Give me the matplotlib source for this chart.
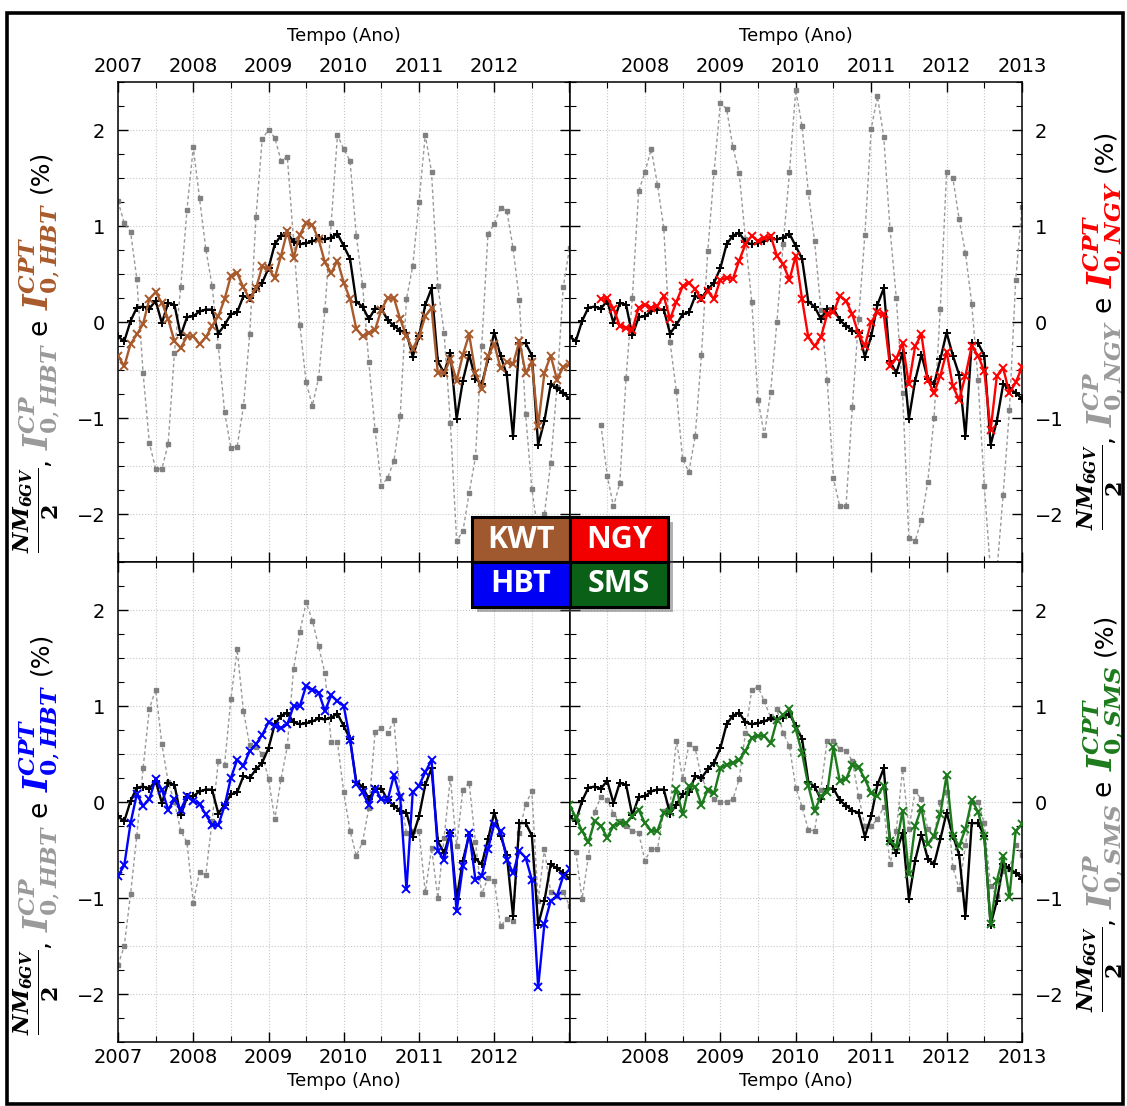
import numpy as np
import matplotlib
matplotlib.use("Agg")
import matplotlib.pyplot as plt
from matplotlib.patches import Rectangle
from matplotlib.ticker import MultipleLocator

nan = np.nan

# months from Jan 2007 to Jan 2013
anos = 2007 + np.arange(73) / 12.0

# NM_6GV / 2 (same curve in all panels)
nm_6gv = [-0.15, -0.20, 0.01, 0.15, 0.16, 0.14, 0.22, -0.01, 0.20, 0.18, -0.14, 0.05,
          0.06, 0.11, 0.13, 0.13, -0.12, -0.03, 0.08, 0.10, 0.27, 0.25, 0.34, 0.41,
          0.56, 0.81, 0.90, 0.93, 0.83, 0.81, 0.82, 0.84, 0.87, 0.86, 0.88, 0.92,
          0.79, 0.66, 0.21, 0.16, 0.03, 0.14, 0.14, 0.02, -0.04, -0.09, -0.11, -0.36,
          -0.15, 0.18, 0.35, -0.41, -0.53, -0.32, -1.01, -0.61, -0.34, -0.59, -0.65, -0.39,
          -0.11, -0.35, -0.55, -1.19, -0.22, -0.22, -0.35, -1.28, -1.03, -0.65, -0.69, -0.74, -0.80]

cp_kwt = [1.26, 1.03, 0.94, 0.45, -0.53, -1.26, -1.53, -1.53, -1.27, -0.32, 0.36, 1.17,
          1.82, 1.29, 0.76, 0.38, -0.25, -0.94, -1.31, -1.30, -0.88, -0.13, 1.09, 1.91,
          2.00, 1.92, 1.68, 1.72, 0.85, -0.03, -0.63, -0.87, -0.58, 0.13, 1.03, 1.95,
          1.80, 1.68, 0.90, 0.39, -0.42, -1.13, -1.71, -1.62, -1.45, -0.98, 0.24, 0.58,
          1.25, 1.95, 1.56, 0.38, -0.11, -1.05, -2.28, -2.18, -1.78, -1.41, -0.25, 0.92,
          1.02, 1.19, 1.16, 0.77, 0.23, -0.96, -1.74, -2.20, -2.00, -1.47, -0.68, 0.36, 0.77]
cpt_kwt = [-0.35, -0.46, -0.23, -0.13, -0.02, 0.24, 0.31, 0.20, 0.03, -0.20, -0.27, -0.15,
           -0.15, -0.23, -0.16, -0.04, 0.06, 0.24, 0.48, 0.51, 0.36, 0.24, 0.35, 0.58,
           0.56, 0.46, 0.69, 0.95, 0.67, 0.91, 1.03, 1.01, 0.86, 0.62, 0.51, 0.64,
           0.41, 0.24, -0.07, -0.15, -0.11, -0.08, 0.13, 0.25, 0.25, 0.03, -0.15, -0.28,
           -0.15, 0.06, 0.15, -0.53, -0.53, -0.39, -0.61, -0.34, -0.13, -0.53, -0.70, -0.35,
           -0.23, -0.48, -0.42, -0.44, -0.20, -0.53, -0.42, -1.08, -0.53, -0.35, -0.60, -0.47, -0.44]

cp_ngy = [nan, nan, nan, nan, nan, -1.07, -1.60, -1.92, -1.68, -0.58, 0.25, 1.36,
          1.56, 1.80, 1.43, 0.98, -0.21, -0.72, -1.43, -1.56, -1.19, -0.34, 0.74, 1.56,
          2.28, 2.22, 1.82, 1.55, 0.86, 0.21, -0.81, -1.18, -0.73, 0.00, 0.81, 1.56,
          2.42, 2.04, 1.35, 0.84, 0.13, -0.60, -1.63, -1.92, -1.92, -0.89, 0.03, 0.91,
          2.01, 2.35, 1.93, 0.97, 0.25, -0.74, -2.25, -2.28, -2.06, -1.67, -1.00, 0.14,
          1.56, 1.50, 1.07, 0.72, 0.19, -0.60, -1.71, -2.60, -2.60, -1.80, -0.92, 0.44, 1.20]
cpt_ngy = [nan, nan, nan, nan, nan, 0.24, 0.25, 0.14, -0.04, -0.06, -0.08, 0.15,
           0.18, 0.15, 0.17, 0.27, 0.03, 0.21, 0.37, 0.41, 0.34, 0.24, 0.32, 0.24,
           0.44, 0.46, 0.45, 0.64, 0.81, 0.90, 0.84, 0.87, 0.90, 0.69, 0.60, 0.44,
           0.69, 0.24, -0.16, -0.25, -0.16, 0.08, 0.10, 0.27, 0.22, 0.08, -0.13, -0.25,
           0.00, 0.10, 0.08, -0.46, -0.38, -0.22, -0.65, -0.25, -0.13, -0.60, -0.74, -0.56,
           -0.31, -0.67, -0.81, -0.56, -0.25, -0.35, -0.51, -1.13, -0.56, -0.48, -0.74, -0.63, -0.47]

cp_hbt = [-1.70, -1.50, -0.96, -0.35, 0.35, 0.97, 1.17, 0.60, 0.21, 0.00, -0.30, -0.42,
          -1.05, -0.73, -0.76, -0.20, 0.43, 0.39, 1.07, 1.59, 0.95, 0.59, 0.57, 0.50,
          0.24, -0.18, 0.24, 0.58, 1.39, 1.77, 2.08, 1.89, 1.62, 1.34, 0.62, 0.62,
          0.10, -0.30, -0.56, -0.42, -0.06, 0.73, 0.77, 0.72, 0.85, 0.06, -0.32, -0.30,
          -0.30, -0.94, -0.48, -1.00, -0.37, 0.25, -0.46, 0.13, 0.20, -0.42, -0.96, -0.79,
          -0.82, -1.29, -1.22, -1.24, -0.32, -0.02, 0.11, -1.03, -0.49, -0.94, -0.98, -0.94, -1.08]
cpt_hbt = [-0.77, -0.66, -0.22, 0.08, -0.04, 0.03, 0.24, 0.13, -0.08, 0.03, -0.08, 0.06,
           0.01, -0.02, -0.13, -0.24, -0.24, -0.04, 0.25, 0.44, 0.38, 0.53, 0.60, 0.70,
           0.83, 0.79, 0.77, 0.81, 1.00, 1.00, 1.21, 1.17, 1.14, 0.95, 1.11, 1.05,
           1.00, 0.65, 0.19, 0.10, -0.03, 0.14, 0.03, 0.02, 0.28, 0.05, -0.91, 0.10,
           0.17, 0.31, 0.44, -0.51, -0.60, -0.32, -1.14, -0.67, -0.32, -0.81, -0.77, -0.49,
           -0.23, -0.30, -0.60, -0.74, -0.51, -0.58, -0.81, -1.93, -1.27, -1.03, -0.98, -0.77, -0.70]

cp_sms = [nan, -0.52, -1.01, -0.57, -0.10, 0.05, 0.02, -0.12, -0.20, -0.25, -0.30, -0.32,
          -0.61, -0.49, -0.49, -0.09, -0.04, 0.64, 0.24, 0.60, 0.56, 0.25, 0.13, 0.03,
          0.00, 0.00, 0.03, 0.24, 0.72, 1.17, 1.20, 1.05, 0.88, 0.97, 0.72, 0.58,
          0.15, -0.05, -0.29, -0.30, 0.13, 0.64, 0.64, 0.55, 0.53, 0.43, 0.06, -0.25,
          -0.25, -0.18, -0.05, -0.65, -0.30, 0.34, -0.28, 0.11, 0.03, -0.28, -0.35, 0.00,
          0.10, -0.68, -0.91, -0.45, 0.00, 0.00, -0.22, -0.88, -0.98, -0.72, -0.70, -0.45, -0.55]
cpt_sms = [-0.03, -0.16, -0.30, -0.42, -0.20, -0.25, -0.37, -0.25, -0.22, -0.22, -0.15, -0.08,
           -0.22, -0.30, -0.30, -0.11, -0.10, 0.14, -0.13, 0.17, 0.16, -0.03, 0.13, 0.09,
           0.35, 0.39, 0.41, 0.44, 0.53, 0.67, 0.69, 0.69, 0.61, 0.85, 0.91, 0.97,
           0.76, 0.51, 0.17, -0.09, 0.06, 0.10, 0.57, 0.22, 0.24, 0.39, 0.36, 0.24,
           0.09, 0.06, 0.17, -0.41, -0.46, -0.09, -0.75, -0.25, -0.06, -0.44, -0.35, -0.13,
           0.28, -0.35, -0.46, -0.28, 0.02, -0.10, -0.35, -1.27, -0.82, -0.56, -0.99, -0.30, -0.23]

estacoes = ["KWT", "NGY", "HBT", "SMS"]
cores = {"KWT": "#A85A2C", "NGY": "#FF0000", "HBT": "#0000FF", "SMS": "#1C7A1C"}
cores_caixa = {"KWT": "#A0582E", "NGY": "#F20000", "HBT": "#0000F5", "SMS": "#0B6018"}
# the KWT panel is labelled with HBT in the original figure
nomes_rotulo = {"KWT": "HBT", "NGY": "NGY", "HBT": "HBT", "SMS": "SMS"}
series_cp = {"KWT": cp_kwt, "NGY": cp_ngy, "HBT": cp_hbt, "SMS": cp_sms}
series_cpt = {"KWT": cpt_kwt, "NGY": cpt_ngy, "HBT": cpt_hbt, "SMS": cpt_sms}
anos_rotulos = [str(a) for a in range(2007, 2014)]

W, H = 1127, 1106
plt.rcParams["font.family"] = "DejaVu Sans"
plt.rcParams["mathtext.fontset"] = "dejavuserif"

fig = plt.figure(figsize=(W / 100, H / 100), dpi=100)


def fx(px):
    return px / W


def fy(py):
    return 1 - py / H


x0, xm, x1 = 118, 569.5, 1022
y0, ym, y1 = 82, 562, 1042
posicoes = {
    "KWT": (x0, y0, xm, ym),
    "NGY": (xm, y0, x1, ym),
    "HBT": (x0, ym, xm, y1),
    "SMS": (xm, ym, x1, y1),
}

for k, est in enumerate(estacoes):
    a, b, c, d = posicoes[est]
    ax = fig.add_axes([fx(a), fy(d), (c - a) / W, (d - b) / H])
    ax.set_xlim(2007, 2013)
    ax.set_ylim(-2.5, 2.5)
    for g in np.arange(2007, 2013.01, 0.5):
        ax.axvline(g, color="#c8c8c8", lw=0.8, ls=":", zorder=0)
    for g in np.arange(-2.0, 2.01, 0.5):
        ax.axhline(g, color="#c8c8c8", lw=0.8, ls=":", zorder=0)

    ax.plot(anos, series_cp[est], color="#999999", lw=1.0, ls=(0, (2.5, 2)),
            marker="s", ms=2.8, mfc="#808080", mec="#808080", zorder=2)
    ax.plot(anos, nm_6gv, color="black", lw=1.7, marker="+", ms=6, mew=1.4, zorder=3)
    ax.plot(anos, series_cpt[est], color=cores[est], lw=1.7, marker="x", ms=6, mew=1.4, zorder=4)

    topo = k < 2
    esquerda = k % 2 == 0
    ax.set_xticks(range(2007, 2014))
    rot = list(anos_rotulos)
    if esquerda:
        rot[-1] = ""
    else:
        rot[0] = ""
    ax.set_xticklabels(rot)
    ax.xaxis.set_minor_locator(MultipleLocator(0.5))
    ax.set_yticks([-2, -1, 0, 1, 2])
    ax.yaxis.set_minor_locator(MultipleLocator(0.25))
    ax.tick_params(axis="both", which="both", direction="in", top=True, bottom=True,
                   left=True, right=True, labelsize=14)
    ax.tick_params(axis="both", which="major", length=7, width=1)
    ax.tick_params(axis="both", which="minor", length=4, width=0.8)
    ax.tick_params(axis="x", labeltop=topo, labelbottom=not topo, pad=4)
    ax.tick_params(axis="y", labelleft=esquerda, labelright=not esquerda, pad=9)
    if topo:
        ax.xaxis.set_label_position("top")
    ax.set_xlabel("Tempo (Ano)", fontsize=13, labelpad=12 if topo else 4)
    for s in ax.spines.values():
        s.set_linewidth(1.1)

renderer = fig.canvas.get_renderer()


def rotulo_vertical(x_px, y_px, partes):
    # stack rotated pieces from bottom to top, each in its own colour
    y = y_px
    for texto, cor, tam, folga in partes:
        t = fig.text(fx(x_px), fy(y), texto, color=cor, fontsize=tam, rotation=90,
                     rotation_mode="anchor", ha="left", va="baseline")
        bb = t.get_window_extent(renderer)
        y -= bb.height + folga


def pecas(est):
    nome = nomes_rotulo[est]
    return [
        (r"$\frac{\mathbfit{NM}_{\mathbfit{6GV}}}{\mathbf{2}}$", "black", 23, 1),
        (",", "black", 18, 8),
        (r"$\mathbfit{I}^{\mathbfit{CP}}_{\mathbf{0},\mathbfit{" + nome + "}}$", "#9a9a9a", 24, 8),
        ("e", "black", 19, 8),
        (r"$\mathbfit{I}^{\mathbfit{CPT}}_{\mathbf{0},\mathbfit{" + nome + "}}$", cores[est], 24, 10),
        ("(%)", "black", 18, 0),
    ]


for est, xb, yb in [("KWT", 47, 553), ("NGY", 1111, 530), ("HBT", 47, 1035), ("SMS", 1111, 1012)]:
    rotulo_vertical(xb, yb, pecas(est))

# station key in the middle of the figure
cx, cy, cw, ch = 472, 517, 98, 45
fig.add_artist(Rectangle((fx(cx + 5), fy(cy + 2 * ch + 5)), 2 * cw / W, 2 * ch / H,
                         transform=fig.transFigure, facecolor="#555555", alpha=0.45,
                         edgecolor="none", zorder=5))
for j, est in enumerate(estacoes):
    col, lin = j % 2, j // 2
    px, py = cx + col * cw, cy + lin * ch
    fig.add_artist(Rectangle((fx(px), fy(py + ch)), cw / W, ch / H, transform=fig.transFigure,
                             facecolor=cores_caixa[est], edgecolor="black", lw=2.2, zorder=6))
    fig.text(fx(px + cw / 2), fy(py + ch / 2), est, color="white", fontsize=22,
             fontweight="bold", family="Open Sans", ha="center", va="center", zorder=7)

# outer frame
fig.add_artist(Rectangle((fx(6.5), fy(1104)), (1123 - 6.5) / W, (1104 - 13) / H,
                         transform=fig.transFigure, fill=False, edgecolor="black", lw=2.6,
                         zorder=8))

fig.savefig("out.png", dpi=100)
